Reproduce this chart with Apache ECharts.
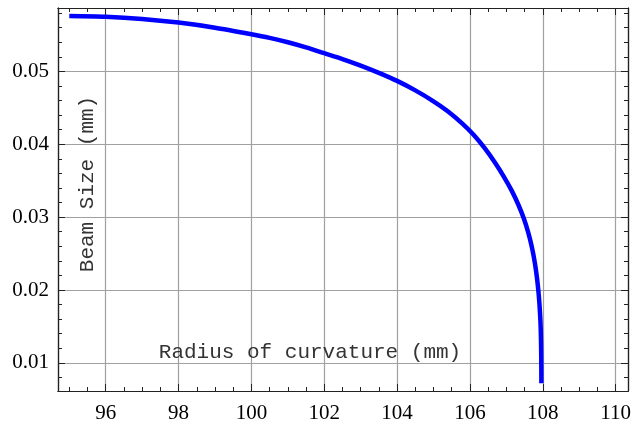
<!DOCTYPE html>
<html>
<head>
<meta charset="utf-8">
<script src="https://cdn.jsdelivr.net/npm/echarts@6/dist/echarts.min.js"></script>
<style>
  html, body { margin: 0; padding: 0; background: #fff; }
  #chart { width: 639px; height: 426px; }
</style>
</head>
<body>
<div id="chart"></div>
<script>
// radius of curvature (mm) vs beam size (mm)
const radius = [95, 96, 97, 98, 99, 100, 100.5, 101, 101.5, 102, 102.5, 103, 103.5, 104, 104.5, 105,
  105.4, 105.8, 106.1, 106.4, 106.7, 106.95, 107.15, 107.33, 107.48, 107.6, 107.7, 107.78, 107.84,
  107.89, 107.925, 107.945, 107.955, 107.96, 107.962]
const beamSize = [0.0576, 0.0575, 0.0572, 0.0567, 0.0560, 0.0551, 0.0546, 0.0540, 0.0533, 0.0525, 0.0517, 0.0508, 0.0498, 0.0487, 0.0474, 0.0459,
  0.0445, 0.0428, 0.0413, 0.0395, 0.0374, 0.0354, 0.0336, 0.0317, 0.0298, 0.0279, 0.0259, 0.0238, 0.0217,
  0.0193, 0.0168, 0.0145, 0.0120, 0.0095, 0.0072]

const xTicks = [96, 98, 100, 102, 104, 106, 108, 110]
const yTicks = [0.01, 0.02, 0.03, 0.04, 0.05]
const xMinorTicks = []
for (let v = 95; v <= 110; v += 0.5) xMinorTicks.push(v)
const yMinorTicks = []
for (let i = 4; i <= 29; i++) yMinorTicks.push(+(i * 0.002).toFixed(3))

const xMin = 94.69, xMax = 110.34
const yMin = 0.00614, yMax = 0.0587

const frame = { show: true, lineStyle: { color: '#222', width: 1.2 } }
const tickFont = { fontFamily: 'Liberation Serif', fontSize: 21, color: '#000' }

function xAxisDef(position, ticks, len, labels, grid) {
  return {
    type: 'value', position, min: xMin, max: xMax,
    axisLine: frame,
    axisTick: { show: true, inside: true, length: len, customValues: ticks, lineStyle: { color: '#222', width: 1 } },
    axisLabel: labels ? { show: true, customValues: xTicks, margin: 12, ...tickFont } : { show: false },
    splitLine: grid ? { show: true, lineStyle: { color: '#a0a0a0', width: 1.2 } } : { show: false },
  }
}
function yAxisDef(position, ticks, len, labels, grid) {
  return {
    type: 'value', position, min: yMin, max: yMax,
    axisLine: frame,
    axisTick: { show: true, inside: true, length: len, customValues: ticks, lineStyle: { color: '#222', width: 1 } },
    axisLabel: labels ? { show: true, customValues: yTicks, margin: 9, formatter: v => v.toFixed(2), ...tickFont } : { show: false },
    splitLine: grid ? { show: true, lineStyle: { color: '#a0a0a0', width: 1.2 } } : { show: false },
  }
}

const chart = echarts.init(document.getElementById('chart'))
chart.setOption({
  animation: false,
  grid: { left: 58, right: 11, top: 8, bottom: 35, containLabel: false },
  xAxis: [
    xAxisDef('bottom', xTicks, 7, true, true),
    xAxisDef('bottom', xMinorTicks, 4, false, false),
    xAxisDef('top', xTicks, 7, false, false),
    xAxisDef('top', xMinorTicks, 4, false, false),
  ],
  yAxis: [
    yAxisDef('left', yTicks, 7, true, true),
    yAxisDef('left', yMinorTicks, 4, false, false),
    yAxisDef('right', yTicks, 7, false, false),
    yAxisDef('right', yMinorTicks, 4, false, false),
  ],
  graphic: [
    {
      type: 'text', x: 310, y: 352, z: 10,
      style: { text: 'Radius of curvature (mm)', font: '21px "Liberation Mono"', fill: '#333', align: 'center', verticalAlign: 'middle' },
    },
    {
      type: 'text', x: 87, y: 184, rotation: Math.PI / 2, z: 10,
      style: { text: 'Beam Size (mm)', font: '21px "Liberation Mono"', fill: '#333', align: 'center', verticalAlign: 'middle' },
    },
  ],
  series: [
    {
      type: 'line',
      xAxisIndex: 0,
      yAxisIndex: 0,
      data: radius.map((r, i) => [r, beamSize[i]]),
      showSymbol: false,
      smooth: 0.25,
      lineStyle: { color: '#0000ff', width: 4.5 },
    },
  ],
})
</script>
</body>
</html>
